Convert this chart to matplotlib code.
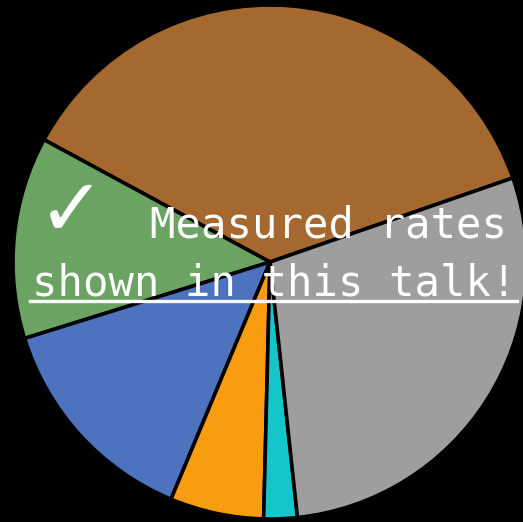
import numpy as np
import matplotlib
matplotlib.use("Agg")
import matplotlib.pyplot as plt
from matplotlib.lines import Line2D

# slice shares (percent), counter-clockwise from the start angle
labels = ["brown", "green", "blue", "orange", "cyan", "gray"]
shares = [36.8, 12.7, 13.9, 5.9, 2.1, 28.6]
colors = ["#A5692F", "#6BA363", "#4D72BE", "#FA9C0F", "#14C6CA", "#9E9E9E"]

W, H = 523, 522
CX, CY, R = 270, 262, 257  # pie centre / radius in pixels

fig = plt.figure(figsize=(W / 100, H / 100), dpi=100, facecolor="black")
ax = fig.add_axes([0, 0, 1, 1])
ax.set_facecolor("black")

ax.pie(shares, colors=colors, startangle=19.1, counterclock=True,
       radius=1.0, center=(0, 0),
       wedgeprops=dict(edgecolor="black", linewidth=2.6))

ax.set_xlim(-CX / R, (W - CX) / R)
ax.set_ylim(-(H - CY) / R, CY / R)
ax.set_aspect("auto")
ax.axis("off")

# overlaid caption
fig.text(38 / W, 1 - 236 / H, "\u2713", color="white", fontsize=58,
         family="DejaVu Sans", fontweight="bold", style="italic",
         ha="left", va="baseline")
fig.text(150 / W, 1 - 237 / H, "Measured rates", color="white", fontsize=30.4,
         family="DejaVu Sans Mono", ha="left", va="baseline")
fig.text(32 / W, 1 - 295 / H, "shown in this talk!", color="white", fontsize=30.4,
         family="DejaVu Sans Mono", ha="left", va="baseline")
fig.add_artist(Line2D([30 / W, 517 / W], [1 - 301 / H, 1 - 301 / H],
                      color="white", lw=2.4, transform=fig.transFigure))

fig.savefig("out.png", dpi=100, facecolor="black")
plt.close(fig)
